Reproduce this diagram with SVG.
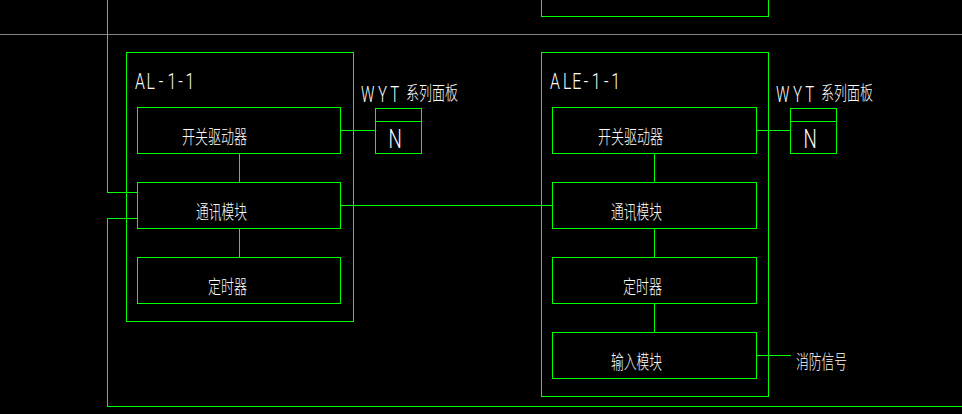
<svg xmlns="http://www.w3.org/2000/svg" width="962" height="414" viewBox="0 0 962 414">
<style>
.g{fill:none;stroke:#00ff00;stroke-width:1;shape-rendering:crispEdges}
.y{fill:none;stroke:#808080;stroke-width:1;shape-rendering:crispEdges}
.t{fill:#fff;font-family:"Noto Sans CJK SC","Liberation Sans",sans-serif;font-size:19px;font-weight:300}
.l{fill:#fff;font-family:Roboto,"Liberation Sans",sans-serif;font-size:22px;font-weight:300}
.n{font-size:26px}
</style>
<rect width="962" height="414" fill="#000"/>
<g id="grid"><path class="y" d="M0 34.5H962"/></g>
<g id="connectors">
<path class="g" d="M107.5 0V192.5H137.5"/>
<path class="g" d="M137.5 218.5H107.5V406.5H962"/>
<path class="g" d="M340.5 130.5H375.5"/>
<path class="g" d="M239.5 153.5V182.5"/>
<path class="g" d="M239.5 228.5V257.5"/>
<path class="g" d="M340.5 205.5H552.5"/>
<path class="g" d="M654.5 153.5V182.5"/>
<path class="g" d="M654.5 228.5V257.5"/>
<path class="g" d="M654.5 303.5V332.5"/>
<path class="g" d="M756.5 130.5H790.5"/>
<path class="g" d="M756.5 355.5H790.5"/>
</g>
<g id="top-box"><path class="g" d="M541.5 0V16.5H768.5V0"/></g>
<g id="AL-1-1"><rect class="g" x="126.5" y="52.5" width="227" height="269"/>
<text class="l" transform="translate(135 89) scale(.72 1)" x="0 16 33 45 60 70">AL-1-1</text></g>
<g id="AL-driver"><rect class="g" x="137.5" y="107.5" width="203" height="46"/>
<text class="t" x="182" y="144" textLength="65" lengthAdjust="spacingAndGlyphs">开关驱动器</text></g>
<g id="AL-comm"><rect class="g" x="137.5" y="182.5" width="203" height="46"/>
<text class="t" x="196" y="219" textLength="51" lengthAdjust="spacingAndGlyphs">通讯模块</text></g>
<g id="AL-timer"><rect class="g" x="137.5" y="257.5" width="203" height="46"/>
<text class="t" x="208" y="294" textLength="39" lengthAdjust="spacingAndGlyphs">定时器</text></g>
<g id="AL-panel"><rect class="g" x="375.5" y="108.5" width="46" height="45"/><path class="g" d="M375.5 121.5H421.5"/>
<text class="l" transform="translate(361 102) scale(.68 1)" x="0 25 43">WYT</text>
<text class="t" x="406" y="100" textLength="52" lengthAdjust="spacingAndGlyphs">系列面板</text>
<text class="l n" transform="translate(388.5 148) scale(.72 1)">N</text></g>
<g id="ALE-1-1"><rect class="g" x="541.5" y="52.5" width="227" height="344"/>
<text class="l" transform="translate(550 89) scale(.72 1)" x="0 18 31 47 58 75 85">ALE-1-1</text></g>
<g id="ALE-driver"><rect class="g" x="552.5" y="107.5" width="204" height="46"/>
<text class="t" x="598" y="144" textLength="65" lengthAdjust="spacingAndGlyphs">开关驱动器</text></g>
<g id="ALE-comm"><rect class="g" x="552.5" y="182.5" width="204" height="46"/>
<text class="t" x="611" y="219" textLength="51" lengthAdjust="spacingAndGlyphs">通讯模块</text></g>
<g id="ALE-timer"><rect class="g" x="552.5" y="257.5" width="204" height="46"/>
<text class="t" x="623" y="294" textLength="39" lengthAdjust="spacingAndGlyphs">定时器</text></g>
<g id="ALE-input"><rect class="g" x="552.5" y="332.5" width="204" height="46"/>
<text class="t" x="611" y="369" textLength="51" lengthAdjust="spacingAndGlyphs">输入模块</text></g>
<g id="ALE-panel"><rect class="g" x="790.5" y="108.5" width="46" height="45"/><path class="g" d="M790.5 121.5H836.5"/>
<text class="l" transform="translate(776 102) scale(.68 1)" x="0 25 43">WYT</text>
<text class="t" x="821" y="100" textLength="52" lengthAdjust="spacingAndGlyphs">系列面板</text>
<text class="l n" transform="translate(803.5 148) scale(.72 1)">N</text></g>
<g id="fire-signal"><text class="t" x="796" y="369" textLength="51" lengthAdjust="spacingAndGlyphs">消防信号</text></g>
</svg>
